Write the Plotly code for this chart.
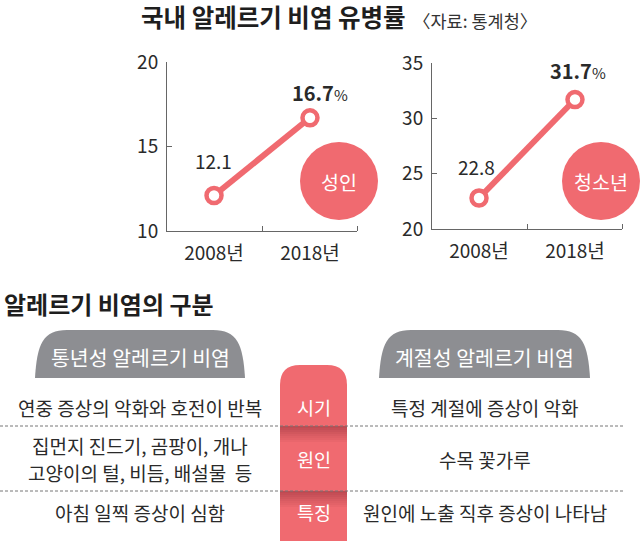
import plotly.graph_objects as go

# ---------------- data ----------------
years = ["2008년", "2018년"]
adult_rate = [12.1, 16.7]
youth_rate = [22.8, 31.7]
adult_ticks = [10, 15, 20]
youth_ticks = [20, 25, 30, 35]
group_labels = ["성인", "청소년"]

title_main = "국내 알레르기 비염 유병률"
title_src = "〈자료: 통계청〉"
section_title = "알레르기 비염의 구분"
col_heads = ["통년성 알레르기 비염", "계절성 알레르기 비염"]
row_heads = ["시기", "원인", "특징"]
left_texts = [["연중 증상의 악화와 호전이 반복"],
              ["집먼지 진드기, 곰팡이, 개나", "고양이의 털, 비듬, 배설물  등"],
              ["아침 일찍 증상이 심함"]]
right_texts = [["특정 계절에 증상이 악화"],
               ["수목 꽃가루"],
               ["원인에 노출 직후 증상이 나타남"]]

# ---------------- styling ----------------
W, H = 640, 541
FONT = "Noto Sans CJK KR, Noto Sans, sans-serif"
PINK = "#f06a70"
GRAY = "#8d8e92"
TXT = "#2a2a2a"


def px(x):
    return x / W


def py(y):
    return 1 - y / H


def text_ann(x, y, text, size, color=TXT, xanchor="center", yanchor="middle"):
    return dict(x=px(x), y=py(y), xref="paper", yref="paper", text=text,
                showarrow=False, xanchor=xanchor, yanchor=yanchor, align="center",
                font=dict(family=FONT, size=size, color=color))


fig = go.Figure()

series = [(adult_rate, "x", "y"), (youth_rate, "x2", "y2")]
for vals, xa, ya in series:
    fig.add_trace(go.Scatter(
        x=list(range(len(years))), y=vals, xaxis=xa, yaxis=ya,
        mode="lines+markers",
        line=dict(color=PINK, width=6),
        marker=dict(symbol="circle", size=15, color="white",
                    line=dict(color=PINK, width=4.5)),
        hoverinfo="skip", showlegend=False, cliponaxis=False))

axis_common = dict(showgrid=False, zeroline=False, showline=True,
                   linecolor="#666", linewidth=1, automargin=False,
                   tickfont=dict(family=FONT, size=19, color=TXT))

xcommon = dict(axis_common, range=[-0.49, 1.49],
               tickvals=list(range(len(years))), ticktext=years,
               ticks="", ticklabelstandoff=5,
               minor=dict(tickvals=[0.5, 1.49], ticks="inside", ticklen=5,
                          tickcolor="#666", tickwidth=1))

fig.update_layout(
    width=W, height=H,
    margin=dict(l=0, r=0, t=0, b=0, pad=0, autoexpand=False),
    paper_bgcolor="white", plot_bgcolor="rgba(0,0,0,0)",
    xaxis=dict(xcommon, domain=[px(167), px(357)], anchor="y"),
    yaxis=dict(axis_common, domain=[py(231), py(62)], range=[10, 20],
               tickvals=adult_ticks, ticks="inside", ticklen=5,
               tickcolor="#666", ticklabelstandoff=4, anchor="x"),
    xaxis2=dict(xcommon, domain=[px(432), px(622)], anchor="y2"),
    yaxis2=dict(axis_common, domain=[py(229), py(63)], range=[20, 35],
                tickvals=youth_ticks, ticks="inside", ticklen=5,
                tickcolor="#666", ticklabelstandoff=4, anchor="x2"),
)

shapes = []
ann = []

# value labels
offsets = [
    [(-1, 35), (10, 25)],
    [(-3, 32), (3, 29)],
]
for si, (vals, xa, ya) in enumerate(series):
    for i, v in enumerate(vals):
        dx, dy = offsets[si][i]
        if i == len(vals) - 1:
            txt = f"<b>{v}</b><span style='font-size:15px;font-weight:normal'>%</span>"
            size = 20
        else:
            txt = f"{v}"
            size = 19
        ann.append(dict(x=i, y=v, xref=xa, yref=ya, text=txt, showarrow=False,
                        xanchor="center", yanchor="middle",
                        xshift=dx, yshift=dy,
                        font=dict(family=FONT, size=size, color=TXT)))

# group circles
for (cx, cy), lab in zip([(339, 181), (601, 181)], group_labels):
    r = 39
    shapes.append(dict(type="circle", xref="paper", yref="paper",
                       x0=px(cx - r), x1=px(cx + r), y0=py(cy + r), y1=py(cy - r),
                       fillcolor=PINK, line=dict(width=0), layer="below"))
    ann.append(text_ann(cx, cy, lab, 19.5, "white"))

# titles
ann.append(text_ann(139, 17, f"<b>{title_main}</b>", 24.5, "#1e1e1e", xanchor="left"))
ann.append(text_ann(411, 20, title_src, 17.5, "#333", xanchor="left"))
ann.append(text_ann(2, 303, f"<b>{section_title}</b>", 24, "#1e1e1e", xanchor="left"))


def pstr(cmds):
    out = []
    for c in cmds:
        if isinstance(c, str):
            out.append(c)
        else:
            out.append(f"{px(c[0]):.5f},{py(c[1]):.5f}")
    return " ".join(out)


# gray tabs
for (x0, x1), head in zip([(35, 245), (379, 590)], col_heads):
    yt, yb = 330, 378
    rx = 32
    d = pstr(["M", (x0, yb), "C", (x0 + 2, yt + 14), (x0 + 8, yt), (x0 + rx, yt),
              "L", (x1 - rx, yt), "C", (x1 - 8, yt), (x1 - 2, yt + 14), (x1, yb), "Z"])
    shapes.append(dict(type="path", xref="paper", yref="paper", path=d,
                       fillcolor=GRAY, line=dict(width=0)))
    ann.append(text_ann((x0 + x1) / 2, 357, head, 20.5, "white"))

# pink column
cx0, cx1, ctop, cbot, cr = 280, 347, 365, 541, 20
d = pstr(["M", (cx0, cbot), "L", (cx0, ctop + cr), "Q", (cx0, ctop), (cx0 + cr, ctop),
          "L", (cx1 - cr, ctop), "Q", (cx1, ctop), (cx1, ctop + cr), "L", (cx1, cbot), "Z"])
shapes.append(dict(type="path", xref="paper", yref="paper", path=d,
                   fillcolor=PINK, line=dict(width=0)))

# separators with shadow on the pink column
for ysep in [426, 491]:
    steps = 8
    for k in range(steps):
        a = 0.38 * (1 - k / steps)
        shapes.append(dict(type="rect", xref="paper", yref="paper",
                           x0=px(cx0), x1=px(cx1), y0=py(ysep + 2 * k + 2), y1=py(ysep + 2 * k),
                           fillcolor=f"rgba(110,25,35,{a:.3f})", line=dict(width=0)))
    shapes.append(dict(type="line", xref="paper", yref="paper",
                       x0=0, x1=px(623), y0=py(ysep), y1=py(ysep),
                       line=dict(color="#777", width=1, dash="3px,2px")))

row_y = [407, 459, 512]
line_gap = 27
for yy, rh, lt, rt in zip(row_y, row_heads, left_texts, right_texts):
    ann.append(text_ann((cx0 + cx1) / 2, yy, rh, 18.5, "white"))
    for col_x, lines in [(140, lt), (485, rt)]:
        n = len(lines)
        for j, line in enumerate(lines):
            ly = yy + (j - (n - 1) / 2) * line_gap
            ann.append(text_ann(col_x, ly, line, 19))

fig.update_layout(shapes=shapes, annotations=ann)
fig.write_html("out.html", config={"displayModeBar": False},
               post_script="document.body.style.margin='0px';")
